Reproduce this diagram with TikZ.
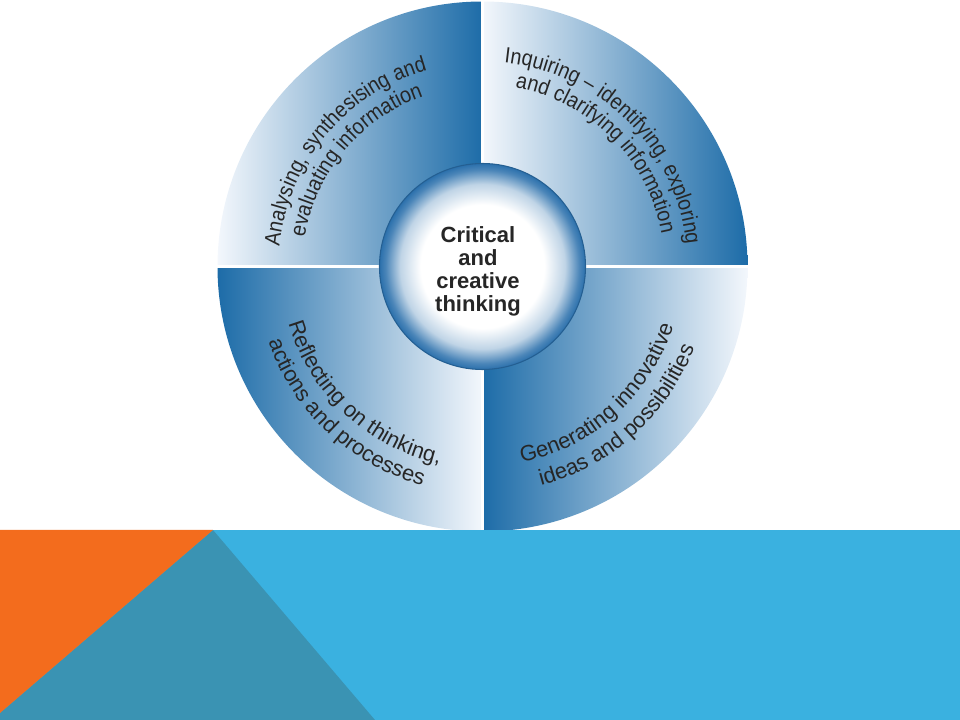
\documentclass[tikz,border=0pt]{standalone}
\usepackage{fontspec}
\setmainfont{Liberation Sans}
\newfontfamily\narrowfamily[FakeStretch=0.9]{Liberation Sans}
\usetikzlibrary{decorations.text}
\definecolor{qdark}{HTML}{1D6CA8}
\definecolor{qlight}{HTML}{F3F7FC}
\definecolor{rimblue}{HTML}{2B70AC}
\definecolor{bandblue}{HTML}{3AB1E0}
\definecolor{bandteal}{HTML}{3A93B3}
\definecolor{bandorange}{HTML}{F36C1D}
\definecolor{labelgray}{HTML}{262626}
\pgfdeclareradialshading{hub}{\pgfpoint{0bp}{0bp}}{color(0bp)=(white); color(15bp)=(white); color(20bp)=(rimblue!30); color(23.5bp)=(rimblue!85); color(25bp)=(rimblue); color(50bp)=(rimblue)}
\tikzstyle{topquarter} = [left color=qlight, right color=qdark]
\tikzstyle{bottomquarter} = [left color=qdark, right color=qlight]
\tikzstyle{gap} = [white, line width=2pt]
\tikzstyle{arclabel} = [decorate, decoration={text along path, text align=center}]
\newcommand{\toparcfont}{\narrowfamily\fontsize{16.5}{20}\selectfont\color{labelgray}}
\newcommand{\bottomarcfont}{\fontsize{16.5}{20}\selectfont\color{labelgray}}

\begin{document}
\begin{tikzpicture}[x=0.75pt,y=0.75pt]
\useasboundingbox (-482.5,-453.5) rectangle (477.5,266.5);
\coordinate (c) at (0,0);

\shade[topquarter]    (c) -- (180:265) arc[start angle=180, end angle=90,  radius=265] -- cycle;
\shade[topquarter]    (c) -- (90:265)  arc[start angle=90,  end angle=0,   radius=265] -- cycle;
\shade[bottomquarter] (c) -- (180:265) arc[start angle=180, end angle=270, radius=265] -- cycle;
\shade[bottomquarter] (c) -- (270:265) arc[start angle=270, end angle=360, radius=265] -- cycle;
\draw[gap] (180:267) -- (0:267);
\draw[gap] (90:267) -- (270:267);

\shade[shading=hub] (c) circle (103);
\draw[rimblue!85!black, line width=0.8pt] (c) circle (103);
\node[font=\bfseries\fontsize{16.5}{17.25}\selectfont, align=center, text=labelgray] (hub) at (-4.5,-5) {Critical\\and\\creative\\thinking};

\path[arclabel, decoration={text={|\toparcfont|Analysing, synthesising and}}] (190:204) arc[start angle=190, end angle=90, radius=204];
\path[arclabel, decoration={text={|\toparcfont|evaluating information}}] (190:180) arc[start angle=190, end angle=90, radius=180];
\path[arclabel, decoration={text={|\toparcfont|Inquiring – identifying, exploring}}] (95:205) arc[start angle=95, end angle=-5, radius=205];
\path[arclabel, decoration={text={|\toparcfont|and clarifying information}}] (95:182) arc[start angle=95, end angle=-5, radius=182];
\path[arclabel, decoration={text={|\bottomarcfont|Generating innovative}}] (-103:200) arc[start angle=-103, end angle=7, radius=200];
\path[arclabel, decoration={text={|\bottomarcfont|ideas and possibilities}}] (-103:227) arc[start angle=-103, end angle=7, radius=227];
\path[arclabel, decoration={text={|\bottomarcfont|Reflecting on thinking,}}] (172:202) arc[start angle=172, end angle=282, radius=202];
\path[arclabel, decoration={text={|\bottomarcfont|actions and processes}}] (172:227) arc[start angle=172, end angle=282, radius=227];

\fill[bandblue] (-482.5,-263.5) rectangle (477.5,-453.5);
\fill[bandteal] (-269.5,-263.5) -- (-107.5,-453.5) -- (-482.5,-453.5) -- (-482.5,-446.5) -- cycle;
\fill[bandorange] (-482.5,-263.5) -- (-269.5,-263.5) -- (-482.5,-446.5) -- cycle;
\end{tikzpicture}
\end{document}
